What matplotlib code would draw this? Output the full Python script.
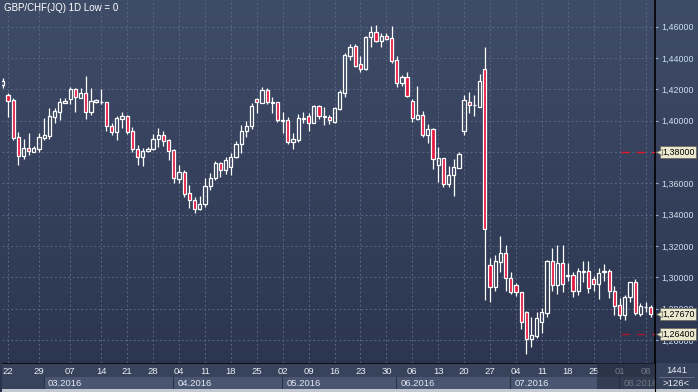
import numpy as np
import matplotlib.pyplot as plt
from matplotlib.colors import LinearSegmentedColormap

# daily GBP/CHF bars, 19.02.2016 - 09.08.2016 (126 bars)
opens = [1.4225, 1.4166, 1.4132, 1.3894, 1.3776, 1.3824, 1.3802, 1.3821, 1.3891, 1.3902,
         1.4025, 1.4057, 1.4114, 1.4136, 1.4200, 1.4146, 1.4174, 1.4057, 1.4119, 1.4117,
         1.4117, 1.3966, 1.3929, 1.4012, 1.4028, 1.3932, 1.3817, 1.3766, 1.3804, 1.3821,
         1.3881, 1.3906, 1.3877, 1.3813, 1.3630, 1.3672, 1.3538, 1.3494, 1.3434, 1.3466,
         1.3583, 1.3634, 1.3728, 1.3685, 1.3706, 1.3766, 1.3851, 1.3932, 1.3966, 1.4136,
         1.4114, 1.4196, 1.4114, 1.4117, 1.3998, 1.4004, 1.3866, 1.3877, 1.4012, 1.4030,
         1.3987, 1.4093, 1.4023, 1.4021, 1.3989, 1.4074, 1.4174, 1.4414, 1.4476, 1.4359,
         1.4328, 1.4532, 1.4564, 1.4508, 1.4540, 1.4525, 1.4387, 1.4238, 1.4277, 1.4125,
         1.4009, 1.4036, 1.3906, 1.3949, 1.3715, 1.3762, 1.3594, 1.3651, 1.3700, 1.3932,
         1.4119, 1.4098, 1.4089, 1.4328, 1.3077, 1.2941, 1.3100, 1.3154, 1.2994, 1.2950,
         1.2905, 1.2781, 1.2605, 1.2628, 1.2717, 1.2775, 1.3105, 1.2951, 1.3090, 1.3011,
         1.3017, 1.2915, 1.3036, 1.3043, 1.2990, 1.2956, 1.3036, 1.3043, 1.2913, 1.2824,
         1.2758, 1.2873, 1.2969, 1.2764, 1.2811, 1.2809]
highs = [1.4272, 1.4178, 1.4146, 1.3929, 1.3883, 1.3923, 1.3838, 1.3923, 1.4015, 1.4079,
         1.4079, 1.4146, 1.4146, 1.4217, 1.4206, 1.4206, 1.4285, 1.4210, 1.4136, 1.4200,
         1.4121, 1.3983, 1.4030, 1.4053, 1.4036, 1.3961, 1.3843, 1.3824, 1.3830, 1.3915,
         1.3953, 1.3936, 1.3881, 1.3819, 1.3717, 1.3685, 1.3589, 1.3515, 1.3519, 1.3632,
         1.3668, 1.3744, 1.3738, 1.3766, 1.3795, 1.3872, 1.3972, 1.3999, 1.4114, 1.4143,
         1.4217, 1.4206, 1.4153, 1.4121, 1.4057, 1.4025, 1.3919, 1.4042, 1.4057, 1.4047,
         1.4100, 1.4100, 1.4085, 1.4036, 1.4085, 1.4196, 1.4430, 1.4489, 1.4487, 1.4412,
         1.4540, 1.4606, 1.4610, 1.4561, 1.4557, 1.4604, 1.4412, 1.4291, 1.4308, 1.4136,
         1.4221, 1.4063, 1.3977, 1.3955, 1.3830, 1.3764, 1.3711, 1.3753, 1.3802, 1.4164,
         1.4185, 1.4164, 1.4296, 1.4472, 1.3122, 1.3143, 1.3264, 1.3207, 1.3032, 1.2962,
         1.2909, 1.2787, 1.2745, 1.2779, 1.2805, 1.3111, 1.3186, 1.3207, 1.3207, 1.3090,
         1.3036, 1.3058, 1.3106, 1.3106, 1.3011, 1.3058, 1.3083, 1.3055, 1.2945, 1.2867,
         1.2888, 1.2972, 1.2988, 1.2835, 1.2845, 1.2824]
lows = [1.4208, 1.4025, 1.3877, 1.3719, 1.3753, 1.3781, 1.3800, 1.3798, 1.3877, 1.3885,
        1.3983, 1.4004, 1.4112, 1.4104, 1.4057, 1.4143, 1.4012, 1.4036, 1.4114, 1.4104,
        1.3936, 1.3906, 1.3877, 1.3951, 1.3915, 1.3798, 1.3719, 1.3711, 1.3798, 1.3813,
        1.3834, 1.3838, 1.3749, 1.3600, 1.3600, 1.3515, 1.3441, 1.3413, 1.3430, 1.3451,
        1.3557, 1.3621, 1.3639, 1.3660, 1.3653, 1.3760, 1.3792, 1.3894, 1.3945, 1.4047,
        1.4110, 1.4104, 1.4051, 1.3993, 1.3919, 1.3851, 1.3817, 1.3866, 1.3983, 1.3936,
        1.3983, 1.4009, 1.3972, 1.3979, 1.3985, 1.4068, 1.4153, 1.4387, 1.4344, 1.4312,
        1.4323, 1.4472, 1.4500, 1.4472, 1.4515, 1.4370, 1.4217, 1.4221, 1.4149, 1.3993,
        1.4004, 1.3898, 1.3859, 1.3690, 1.3610, 1.3575, 1.3578, 1.3521, 1.3698, 1.3908,
        1.4051, 1.4030, 1.4085, 1.2856, 1.2845, 1.2915, 1.3032, 1.2915, 1.2894, 1.2883,
        1.2671, 1.2509, 1.2558, 1.2615, 1.2643, 1.2749, 1.2915, 1.2894, 1.2905, 1.2979,
        1.2877, 1.2888, 1.2973, 1.2898, 1.2915, 1.2862, 1.2979, 1.2870, 1.2760, 1.2734,
        1.2728, 1.2841, 1.2760, 1.2755, 1.2781, 1.2745]
closes = [1.4255, 1.4123, 1.3887, 1.3776, 1.3825, 1.3804, 1.3825, 1.3894, 1.3906, 1.4030,
          1.4062, 1.4121, 1.4123, 1.4200, 1.4149, 1.4174, 1.4057, 1.4123, 1.4130, 1.4121,
          1.3966, 1.3929, 1.4015, 1.4030, 1.3929, 1.3817, 1.3766, 1.3806, 1.3819, 1.3881,
          1.3906, 1.3872, 1.3808, 1.3632, 1.3672, 1.3534, 1.3494, 1.3434, 1.3468, 1.3583,
          1.3634, 1.3728, 1.3685, 1.3749, 1.3766, 1.3851, 1.3932, 1.3966, 1.4093, 1.4117,
          1.4196, 1.4117, 1.4119, 1.4004, 1.4002, 1.3866, 1.3881, 1.4015, 1.4017, 1.3987,
          1.4093, 1.4030, 1.4028, 1.4002, 1.4079, 1.4183, 1.4419, 1.4468, 1.4351, 1.4328,
          1.4532, 1.4564, 1.4510, 1.4540, 1.4521, 1.4382, 1.4238, 1.4277, 1.4157, 1.4015,
          1.4036, 1.3906, 1.3949, 1.3753, 1.3762, 1.3594, 1.3653, 1.3704, 1.3785, 1.4132,
          1.4098, 1.4102, 1.4253, 1.3307, 1.2941, 1.3105, 1.3154, 1.2994, 1.2909, 1.2905,
          1.2717, 1.2605, 1.2632, 1.2741, 1.2777, 1.3105, 1.2951, 1.3090, 1.2956, 1.3015,
          1.2915, 1.3043, 1.3041, 1.2934, 1.2956, 1.3026, 1.3043, 1.2913, 1.2819, 1.2758,
          1.2875, 1.2969, 1.2771, 1.2817, 1.2813, 1.2767]

# bar index of each Monday and its day label
day_ticks = [1, 7, 13, 19, 24, 29, 34, 39, 44, 49, 54, 59, 64, 69, 74, 79, 84, 89,
             94, 99, 104, 109, 114, 119, 124]
day_labels = ['22', '29', '07', '14', '21', '28', '04', '11', '18', '25', '02', '09',
              '16', '23', '30', '06', '13', '20', '27', '04', '11', '18', '25', '01', '08']
# first bar of each month
month_first = [8, 33, 54, 76, 98, 119]
month_labels = ['03.2016', '04.2016', '05.2016', '06.2016', '07.2016', '08.2016']

price_ticks = [1.26, 1.28, 1.30, 1.32, 1.34, 1.36, 1.38, 1.40, 1.42, 1.44, 1.46]
alert_high = 1.38
alert_low = 1.264
bars_total = 1441
bars_shown = len(closes)

W, H = 698, 392
fig = plt.figure(figsize=(W / 100, H / 100), dpi=100)
fig.patch.set_facecolor('#343f58')

# full background gradient
bg = fig.add_axes([0, 0, 1, 1])
bg.imshow(np.linspace(0, 1, 256).reshape(-1, 1), aspect='auto', origin='lower',
          extent=[0, 1, 0, 1],
          cmap=LinearSegmentedColormap.from_list('bg', ['#2a344e', '#3f4c68']))
bg.set_xlim(0, 1)
bg.set_ylim(0, 1)
bg.axis('off')

ax = fig.add_axes([2 / W, 29 / H, 653 / W, 363 / H])
ax.set_facecolor('none')

x = np.arange(len(closes))
o = np.array(opens)
c = np.array(closes)
hi = np.array(highs)
lo = np.array(lows)
top = np.maximum(o, c)
bot = np.minimum(o, c)
red = '#e4173f'

ax.vlines(x, top, hi, color='white', lw=0.9, zorder=3)
ax.vlines(x, lo, bot, color='white', lw=0.9, zorder=3)
ax.bar(x, np.maximum(top - bot, 0.0002), bottom=bot, width=0.62,
       color=[red if cc < oo else 'none' for oo, cc in zip(opens, closes)],
       edgecolor='white', linewidth=0.9, zorder=4)

ax.set_xlim(-0.15, 125.83)
ax.set_ylim(1.2454, 1.4770)

# grid
for p in price_ticks:
    ax.axhline(p, color='#5a6784', lw=0.7, dashes=(2, 2.5), zorder=1)
for t in day_ticks:
    ax.axvline(t, color='#5a6784', lw=0.7, dashes=(2, 2.5), zorder=1)

# alert levels near the right edge
ax.plot([119.2, 125.83], [alert_high] * 2, color='#e8182c', lw=1, dashes=(6, 5), zorder=5)
ax.plot([119.2, 125.83], [alert_low] * 2, color='#a8162a', lw=1, dashes=(6, 5), zorder=5)

ax.yaxis.tick_right()
ax.set_yticks(price_ticks)
ax.set_yticklabels([f'{p:.5f}'.replace('.', ',') for p in price_ticks],
                   fontsize=6.4, color='#cfe0f2', family='Liberation Sans')
ax.tick_params(axis='y', length=2.5, width=0.8, color='#8cb0d8', pad=2)
ax.set_xticks([])
for s in ['top', 'left', 'bottom']:
    ax.spines[s].set_visible(False)
ax.spines['right'].set_color('black')
ax.spines['right'].set_linewidth(1.2)

ax.text(2 / 653, 1 - 8 / 363, 'GBP/CHF(JQ) 1D Low = 0', transform=ax.transAxes,
        color='white', fontsize=7, family='Liberation Sans', va='center', ha='left')

# price markers on the axis
box = dict(boxstyle='square,pad=0.18', fc='#ece8d0', ec='#6c6c60', lw=0.6)
for p in [alert_high, c[-1], alert_low]:
    ax.text(1 + 7 / 653, p, f'{p:.5f}'.replace('.', ','), transform=ax.get_yaxis_transform(),
            fontsize=6.4, color='black', family='Liberation Sans', va='center', ha='left',
            bbox=box, zorder=10, clip_on=False)
    ax.plot([1 + 3.5 / 653], [p], marker='<', ms=4, color='#ece8d0', mec='#6c6c60', mew=0.5,
            transform=ax.get_yaxis_transform(), clip_on=False, zorder=11)

# bottom date axis
bx = fig.add_axes([2 / W, 0, 653 / W, 29 / H], sharex=ax)
bx.set_facecolor('#37425b')
bx.set_ylim(29, 0)
for t, lab in zip(day_ticks, day_labels):
    bx.text(t, 8.5, lab, color='#e8eef6', fontsize=6.8, family='Liberation Sans',
            ha='center', va='center')
edges = month_first + [126]
for i, lab in enumerate(month_labels):
    x0 = edges[i] - 0.1
    x1 = edges[i + 1] - 0.1 if i + 1 < len(month_labels) else 125.83
    bx.fill_between([x0, x1], 14, 26, color='#4a5671', lw=0)
    bx.plot([x0, x0], [14, 26], color='#2a3246', lw=0.8)
    bx.text(x0 + 0.8, 20.5, lab, color='#e2e8f0', fontsize=6.8, family='Liberation Sans',
            ha='left', va='center')
# dimmed scroll region over the newest dates
bx.axvspan(114.6, 125.83, color='#232b3e', alpha=0.6, lw=0, zorder=6)
bx.axhline(0.3, color='black', lw=1.2)
bx.axhspan(26, 29, color='#c4c8d0', lw=0, zorder=7)
bx.set_xticks([])
bx.set_yticks([])
for s in bx.spines.values():
    s.set_visible(False)

# corner box
cx = fig.add_axes([655 / W, 0, 43 / W, 29 / H])
cx.set_facecolor('#37425b')
cx.set_xlim(0, 43)
cx.set_ylim(29, 0)
cx.text(21.5, 7.5, str(bars_total), color='#e8eef6', fontsize=6.8,
        family='Liberation Sans', ha='center', va='center')
cx.text(21.5, 20.5, f'>{bars_shown}<', color='#e8eef6', fontsize=6.8,
        family='Liberation Sans', ha='center', va='center')
cx.axhline(14, xmin=0.1, xmax=0.9, color='#6a7690', lw=0.6)
cx.axhspan(26, 29, color='#c4c8d0', lw=0)
cx.set_xticks([])
cx.set_yticks([])
for s in cx.spines.values():
    s.set_visible(False)
cx.spines['left'].set_visible(True)
cx.spines['left'].set_color('black')

fig.savefig('out.png', dpi=100, facecolor=fig.get_facecolor())
